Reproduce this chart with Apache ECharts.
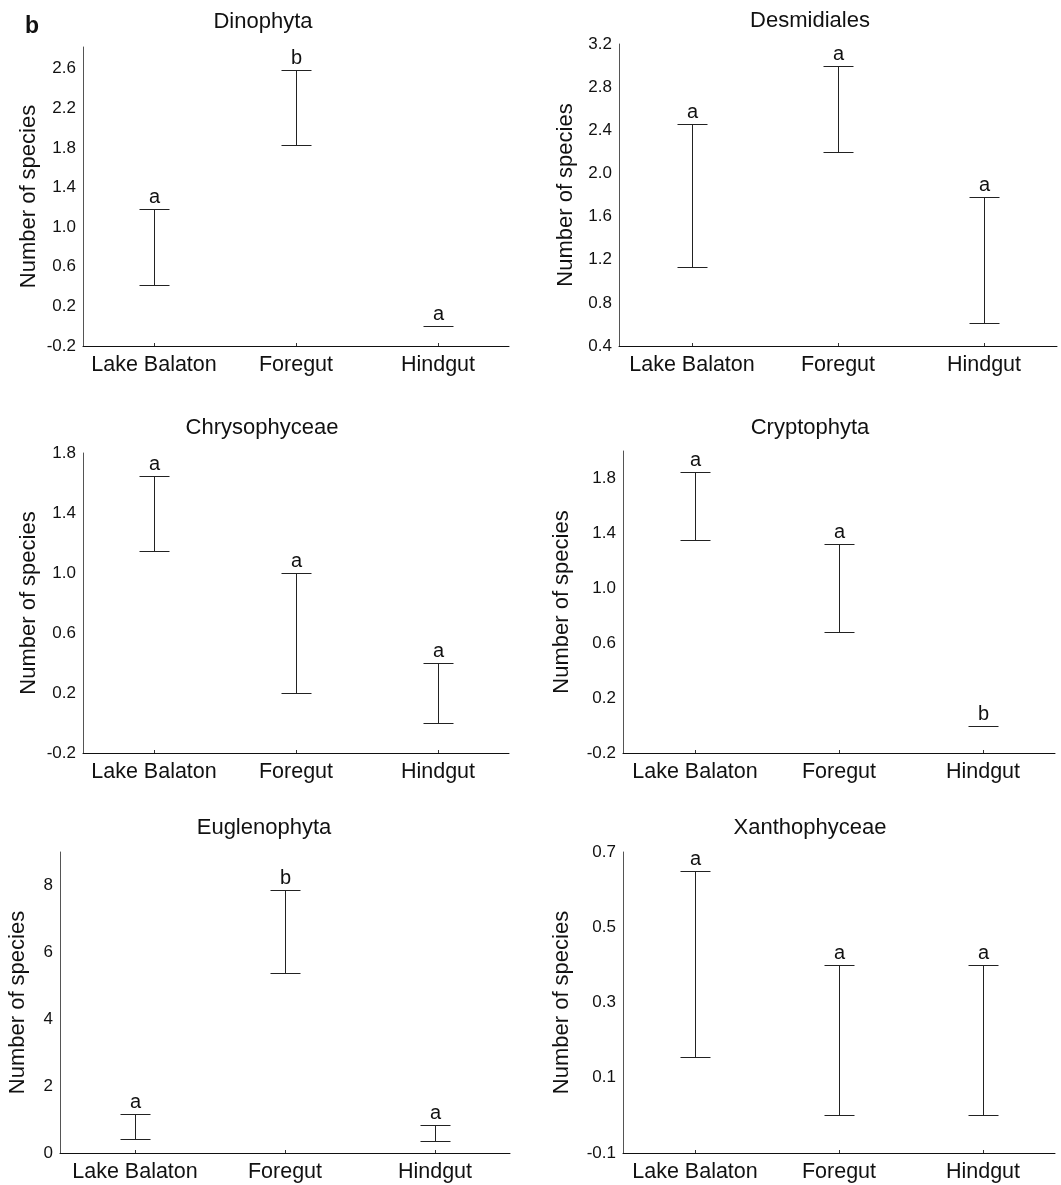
<!DOCTYPE html>
<html>
<head>
<meta charset="utf-8">
<script src="https://cdn.jsdelivr.net/npm/echarts@6/dist/echarts.min.js"></script>
<style>
html,body{margin:0;padding:0;background:#fff;}
#chart{width:1061px;height:1185px;}
</style>
</head>
<body>
<div id="chart"></div>
<script>
// ---- data ----
const categories = ['Lake Balaton', 'Foregut', 'Hindgut'];
const panelTitles = ['Dinophyta', 'Desmidiales', 'Chrysophyceae', 'Cryptophyta', 'Euglenophyta', 'Xanthophyceae'];
const yAxisName = 'Number of species';
const panelLetter = 'b';

const dinophytaLow = [0.42, 1.83, 0];
const dinophytaHigh = [1.18, 2.59, 0];
const dinophytaGroups = ['a', 'b', 'a'];
const dinophytaTicks = ['-0.2', '0.2', '0.6', '1.0', '1.4', '1.8', '2.2', '2.6'];
const dinophytaRange = [-0.2, 2.82];

const desmidialesLow = [1.13, 2.2, 0.61];
const desmidialesHigh = [2.46, 3.0, 1.78];
const desmidialesGroups = ['a', 'a', 'a'];
const desmidialesTicks = ['0.4', '0.8', '1.2', '1.6', '2.0', '2.4', '2.8', '3.2'];
const desmidialesRange = [0.4, 3.2];

const chrysophyceaeLow = [1.15, 0.2, 0.0];
const chrysophyceaeHigh = [1.65, 1.0, 0.4];
const chrysophyceaeGroups = ['a', 'a', 'a'];
const chrysophyceaeTicks = ['-0.2', '0.2', '0.6', '1.0', '1.4', '1.8'];
const chrysophyceaeRange = [-0.2, 1.8];

const cryptophytaLow = [1.35, 0.68, 0];
const cryptophytaHigh = [1.85, 1.32, 0];
const cryptophytaGroups = ['a', 'a', 'b'];
const cryptophytaTicks = ['-0.2', '0.2', '0.6', '1.0', '1.4', '1.8'];
const cryptophytaRange = [-0.2, 2.0];

const euglenophytaLow = [0.41, 5.37, 0.35];
const euglenophytaHigh = [1.17, 7.87, 0.84];
const euglenophytaGroups = ['a', 'b', 'a'];
const euglenophytaTicks = ['0', '2', '4', '6', '8'];
const euglenophytaRange = [0, 9];

const xanthophyceaeLow = [0.155, 0, 0];
const xanthophyceaeHigh = [0.65, 0.4, 0.4];
const xanthophyceaeGroups = ['a', 'a', 'a'];
const xanthophyceaeTicks = ['-0.1', '0.1', '0.3', '0.5', '0.7'];
const xanthophyceaeRange = [-0.1, 0.7];

// ---- assembly ----
const panels = [
  {low: dinophytaLow, high: dinophytaHigh, groups: dinophytaGroups, ticks: dinophytaTicks, range: dinophytaRange},
  {low: desmidialesLow, high: desmidialesHigh, groups: desmidialesGroups, ticks: desmidialesTicks, range: desmidialesRange},
  {low: chrysophyceaeLow, high: chrysophyceaeHigh, groups: chrysophyceaeGroups, ticks: chrysophyceaeTicks, range: chrysophyceaeRange},
  {low: cryptophytaLow, high: cryptophytaHigh, groups: cryptophytaGroups, ticks: cryptophytaTicks, range: cryptophytaRange},
  {low: euglenophytaLow, high: euglenophytaHigh, groups: euglenophytaGroups, ticks: euglenophytaTicks, range: euglenophytaRange},
  {low: xanthophyceaeLow, high: xanthophyceaeHigh, groups: xanthophyceaeGroups, ticks: xanthophyceaeTicks, range: xanthophyceaeRange}
];

// layout
const layout = [
  {left: 83, top: 47, width: 426, height: 299, nameGap: 43, titleX: 263, titleY: 22},
  {left: 619, top: 44, width: 438, height: 302, nameGap: 42, titleX: 810, titleY: 21},
  {left: 83, top: 453, width: 426, height: 300, nameGap: 43, titleX: 262, titleY: 428},
  {left: 623, top: 451, width: 432, height: 302, nameGap: 50, titleX: 810, titleY: 428},
  {left: 60, top: 852, width: 450, height: 301, nameGap: 31, titleX: 264, titleY: 828},
  {left: 623, top: 852, width: 432, height: 301, nameGap: 50, titleX: 810, titleY: 828}
];

const FONT = '"Liberation Sans", Arial, Helvetica, sans-serif';
const LINE = '#222';

const grids = [], xAxes = [], yAxes = [], series = [], graphics = [];

panels.forEach((p, k) => {
  const L = layout[k];
  grids.push({left: L.left, top: L.top, width: L.width, height: L.height, containLabel: false});
  xAxes.push({
    type: 'category', gridIndex: k, data: categories,
    axisLine: {show: true, onZero: false, lineStyle: {color: '#111', width: 1}},
    axisTick: {show: true, inside: true, length: 3, alignWithLabel: true, lineStyle: {color: '#333'}},
    axisLabel: {interval: 0, fontSize: 21.5, color: '#111', fontFamily: FONT, margin: 8},
    splitLine: {show: false}
  });
  const tickVals = p.ticks.map(Number);
  yAxes.push({
    type: 'value', gridIndex: k, min: p.range[0], max: p.range[1],
    name: yAxisName, nameLocation: 'middle', nameGap: L.nameGap,
    nameTextStyle: {fontSize: 22, color: '#111', fontFamily: FONT},
    axisLine: {show: true, onZero: false, lineStyle: {color: '#555', width: 1}},
    axisTick: {show: false, customValues: tickVals},
    splitLine: {show: false},
    axisLabel: {
      customValues: tickVals,
      fontSize: 17, color: '#111', fontFamily: FONT, margin: 7,
      formatter: function (v) {
        for (let i = 0; i < tickVals.length; i++) {
          if (Math.abs(tickVals[i] - v) < 1e-9) return p.ticks[i];
        }
        return '';
      }
    }
  });
  const data = categories.map((c, i) => [i, p.low[i], p.high[i]]);
  series.push({
    type: 'custom', xAxisIndex: k, yAxisIndex: k, data: data,
    encode: {x: 0, y: [1, 2]},
    renderItem: function (params, api) {
      const i = params.dataIndex;
      const lo = api.coord([api.value(0), api.value(1)]);
      const hi = api.coord([api.value(0), api.value(2)]);
      const x = Math.round(lo[0]) + 0.5;
      const yl = Math.round(lo[1]) + 0.5;
      const yh = Math.round(hi[1]) + 0.5;
      const half = 15;
      const st = {stroke: LINE, lineWidth: 1};
      const children = [];
      if (yl - yh > 0.5) {
        children.push({type: 'line', shape: {x1: x, y1: yh, x2: x, y2: yl}, style: st});
        children.push({type: 'line', shape: {x1: x - half, y1: yl, x2: x + half, y2: yl}, style: st});
      }
      children.push({type: 'line', shape: {x1: x - half, y1: yh, x2: x + half, y2: yh}, style: st});
      children.push({
        type: 'text',
        style: {
          text: p.groups[i], x: x, y: yh - 2,
          textAlign: 'center', textVerticalAlign: 'bottom',
          font: '20px ' + FONT, fill: '#111'
        }
      });
      return {type: 'group', children: children};
    },
    silent: true, animation: false
  });
  graphics.push({
    type: 'text', x: L.titleX, y: L.titleY,
    style: {text: panelTitles[k], textAlign: 'center', textVerticalAlign: 'middle', font: '22px ' + FONT, fill: '#111'}
  });
});

graphics.push({
  type: 'text', x: 25, y: 15,
  style: {text: panelLetter, textAlign: 'left', textVerticalAlign: 'top', font: 'bold 23px ' + FONT, fill: '#111'}
});

const chart = echarts.init(document.getElementById('chart'), null, {renderer: 'canvas'});
chart.setOption({
  backgroundColor: '#fff',
  animation: false,
  grid: grids,
  xAxis: xAxes,
  yAxis: yAxes,
  series: series,
  graphic: graphics
});
</script>
</body>
</html>
